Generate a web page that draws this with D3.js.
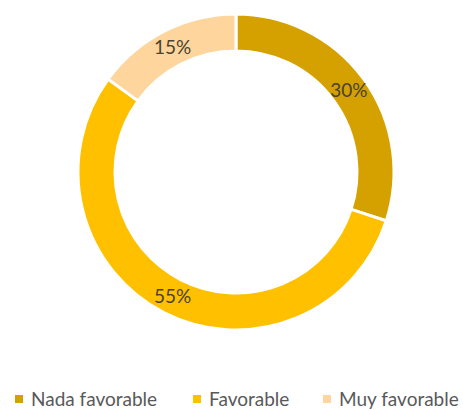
<!DOCTYPE html>
<html>
<head>
<meta charset="utf-8">
<script src="https://cdn.jsdelivr.net/npm/d3@7"></script>
<style>
  body { margin: 0; background: #fff; }
  svg { display: block; }
</style>
</head>
<body>
<div id="chart"></div>
<script>
// data
var categories = ["Nada favorable", "Favorable", "Muy favorable"];
var values = [30, 55, 15];
var colors = ["#D4A100", "#FFC000", "#FDD59D"];

var width = 463, height = 411;
var cx = 236, cy = 172, outerR = 158, innerR = 121;

var svg = d3.select("#chart").append("svg")
    .attr("width", width)
    .attr("height", height);

var pie = d3.pie().sort(null).value(function (d) { return d; });
var arc = d3.arc().innerRadius(innerR).outerRadius(outerR);
var labelArc = d3.arc().innerRadius((innerR + outerR) / 2).outerRadius((innerR + outerR) / 2);

var g = svg.append("g").attr("transform", "translate(" + cx + "," + cy + ")");

g.selectAll("path")
    .data(pie(values))
    .enter().append("path")
    .attr("d", arc)
    .attr("fill", function (d, i) { return colors[i]; })
    .attr("stroke", "#fff")
    .attr("stroke-width", 3);

g.selectAll("text")
    .data(pie(values))
    .enter().append("text")
    .attr("transform", function (d) { return "translate(" + labelArc.centroid(d) + ")"; })
    .attr("text-anchor", "middle")
    .attr("dy", "0.35em")
    .style("font-family", "Lato, 'Open Sans', sans-serif")
    .style("font-size", "19px")
    .style("fill", "#4a4330")
    .text(function (d) { return d.data + "%"; });

// legend
var legendX = [15, 193, 323];
var legend = svg.append("g").attr("transform", "translate(0,399)");
var items = legend.selectAll("g")
    .data(categories)
    .enter().append("g")
    .attr("transform", function (d, i) { return "translate(" + legendX[i] + ",0)"; });

items.append("rect")
    .attr("x", 0)
    .attr("y", -4)
    .attr("width", 8)
    .attr("height", 8)
    .attr("fill", function (d, i) { return colors[i]; });

items.append("text")
    .attr("x", 16)
    .attr("dy", "0.35em")
    .style("font-family", "Lato, 'Open Sans', sans-serif")
    .style("font-size", "19px")
    .style("fill", "#595959")
    .text(function (d) { return d; });
</script>
</body>
</html>
